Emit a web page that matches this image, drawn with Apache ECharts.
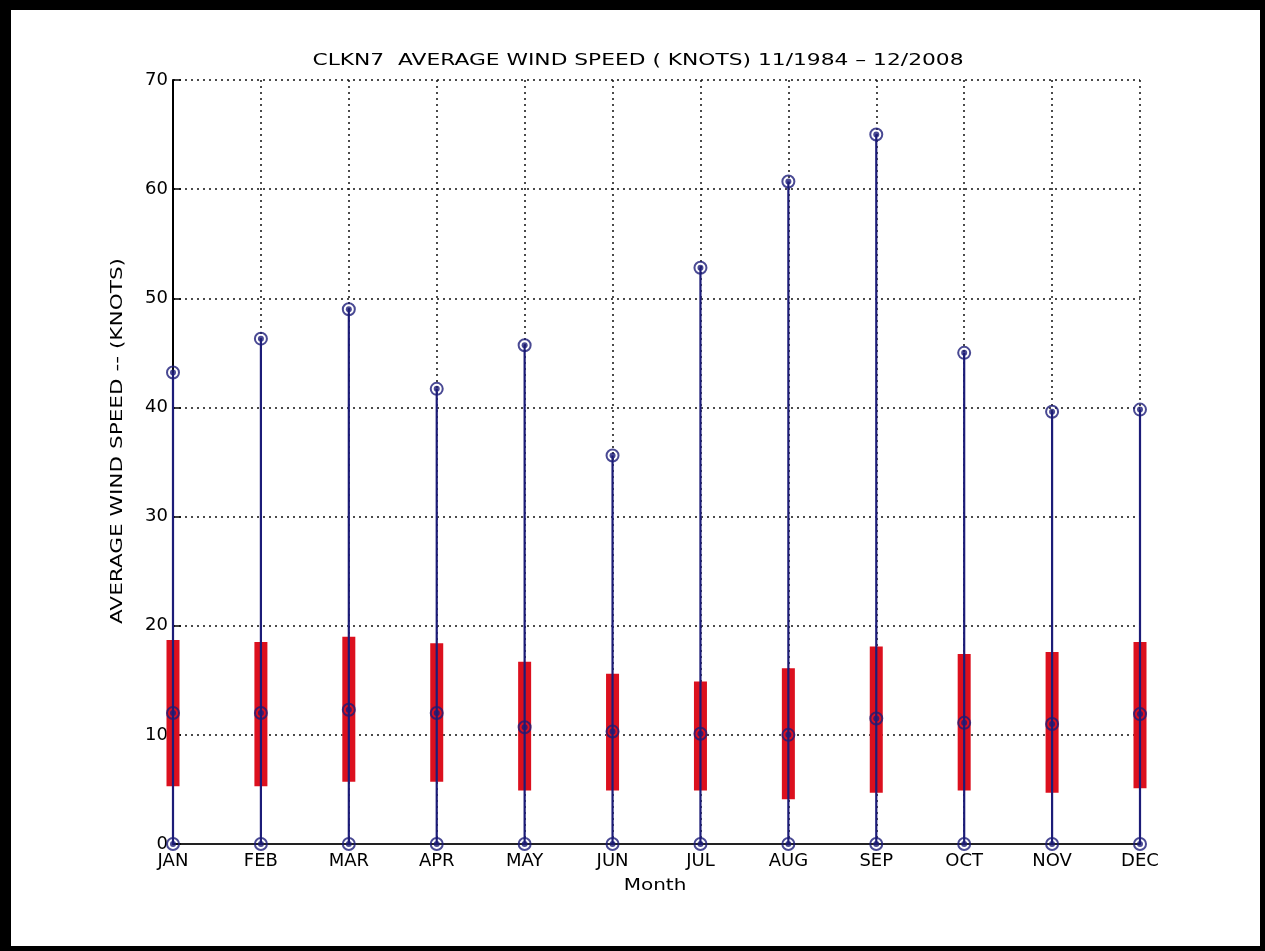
<!DOCTYPE html>
<html><head><meta charset="utf-8">
<script src="https://cdn.jsdelivr.net/npm/echarts@6/dist/echarts.min.js"></script>
<style>html,body{margin:0;padding:0;background:#fff}#c{width:1265px;height:951px}</style>
</head><body><div id="c"></div>
<script>
const months = ['JAN','FEB','MAR','APR','MAY','JUN','JUL','AUG','SEP','OCT','NOV','DEC'];
const minVals = [0,0,0,0,0,0,0,0,0,0,0,0];
const q1Vals = [5.3,5.3,5.7,5.7,4.9,4.9,4.9,4.1,4.7,4.9,4.7,5.1];
const medianVals = [12.0,12.0,12.3,12.0,10.7,10.3,10.1,10.0,11.5,11.1,11.0,11.9];
const q3Vals = [18.7,18.5,19.0,18.4,16.7,15.6,14.9,16.1,18.1,17.4,17.6,18.5];
const maxVals = [43.2,46.3,49.0,41.7,45.7,35.6,52.8,60.7,65.0,45.0,39.6,39.8];
const yTicks = [0,10,20,30,40,50,60,70];
const titleText = 'CLKN7  AVERAGE WIND SPEED ( KNOTS) 11/1984 \u2013 12/2008';
const yTitle = 'AVERAGE WIND SPEED -- (KNOTS)';
const xTitle = 'Month';

const NAVY = '#1c1c78';
const RED = '#dc101e';
const FONT = 'DejaVu Sans';

const boxData = months.map((m,i)=>[i,minVals[i],q1Vals[i],medianVals[i],q3Vals[i],maxVals[i]]);
const markerData = [];
months.forEach((m,i)=>{
  markerData.push([i,minVals[i]]);
  markerData.push([i,medianVals[i]]);
  markerData.push([i,maxVals[i]]);
});

const chart = echarts.init(document.getElementById('c'), null, {renderer:'canvas'});
chart.setOption({
  animation:false,
  backgroundColor:'#fff',
  grid:{left:173, right:125, top:80, bottom:107, containLabel:false},
  xAxis:{
    type:'category', data:months, boundaryGap:false,
    axisLine:{show:true, onZero:false, lineStyle:{color:'#222', width:2}},
    axisTick:{show:true, inside:true, length:8, lineStyle:{color:'#000'}},
    axisLabel:{fontFamily:FONT, fontSize:18, color:'#000', margin:8},
    splitLine:{show:true, lineStyle:{color:'#111', type:[2,4], width:1.5}}
  },
  yAxis:{
    type:'value', min:yTicks[0], max:yTicks[yTicks.length-1], interval:10,
    axisLine:{show:true, lineStyle:{color:'#000', width:2}},
    axisTick:{show:true, inside:true, length:8, lineStyle:{color:'#000', width:1.5}},
    axisLabel:{fontFamily:FONT, fontSize:18, color:'#000', margin:5},
    splitLine:{show:true, lineStyle:{color:'#111', type:[2,4], width:1.5}}
  },
  series:[
    {
      type:'custom', data:boxData, z:3,
      renderItem:function(params, api){
        const x = api.value(0);
        const pMin = api.coord([x, api.value(1)]);
        const pQ1 = api.coord([x, api.value(2)]);
        const pQ3 = api.coord([x, api.value(4)]);
        const pMax = api.coord([x, api.value(5)]);
        const w = 13;
        return {type:'group', children:[
          {type:'rect', shape:{x:pQ1[0]-w/2, y:pQ3[1], width:w, height:pQ1[1]-pQ3[1]}, style:{fill:RED}},
          {type:'line', shape:{x1:pMin[0], y1:pMin[1], x2:pMax[0], y2:pMax[1]}, style:{stroke:NAVY, lineWidth:2.2}}
        ]};
      }
    },
    {
      type:'scatter', data:markerData, z:5, symbol:'circle', symbolSize:12,
      itemStyle:{color:'rgba(0,0,0,0)', borderColor:NAVY, borderWidth:2}
    },
    {
      type:'scatter', data:markerData, z:6, symbol:'circle', symbolSize:6,
      itemStyle:{color:NAVY}
    }
  ],
  graphic:[
    {type:'text', x:638, y:61, scaleX:1.36, z:50,
      style:{text:titleText, font:'16px "DejaVu Sans"', fill:'#000', textAlign:'center', textVerticalAlign:'middle'}},
    {type:'text', x:118, y:441, rotation:Math.PI/2, scaleX:1.35, z:50,
      style:{text:yTitle, font:'16px "DejaVu Sans"', fill:'#000', textAlign:'center', textVerticalAlign:'middle'}},
    {type:'text', x:655, y:886, scaleX:1.25, z:50,
      style:{text:xTitle, font:'16px "DejaVu Sans"', fill:'#000', textAlign:'center', textVerticalAlign:'middle'}},
    {type:'rect', shape:{x:0,y:0,width:1265,height:10}, style:{fill:'#000'}, z:100},
    {type:'rect', shape:{x:0,y:0,width:11,height:951}, style:{fill:'#000'}, z:100},
    {type:'rect', shape:{x:1260,y:0,width:5,height:951}, style:{fill:'#000'}, z:100},
    {type:'rect', shape:{x:0,y:946,width:1265,height:5}, style:{fill:'#000'}, z:100}
  ]
});
</script>
</body></html>
